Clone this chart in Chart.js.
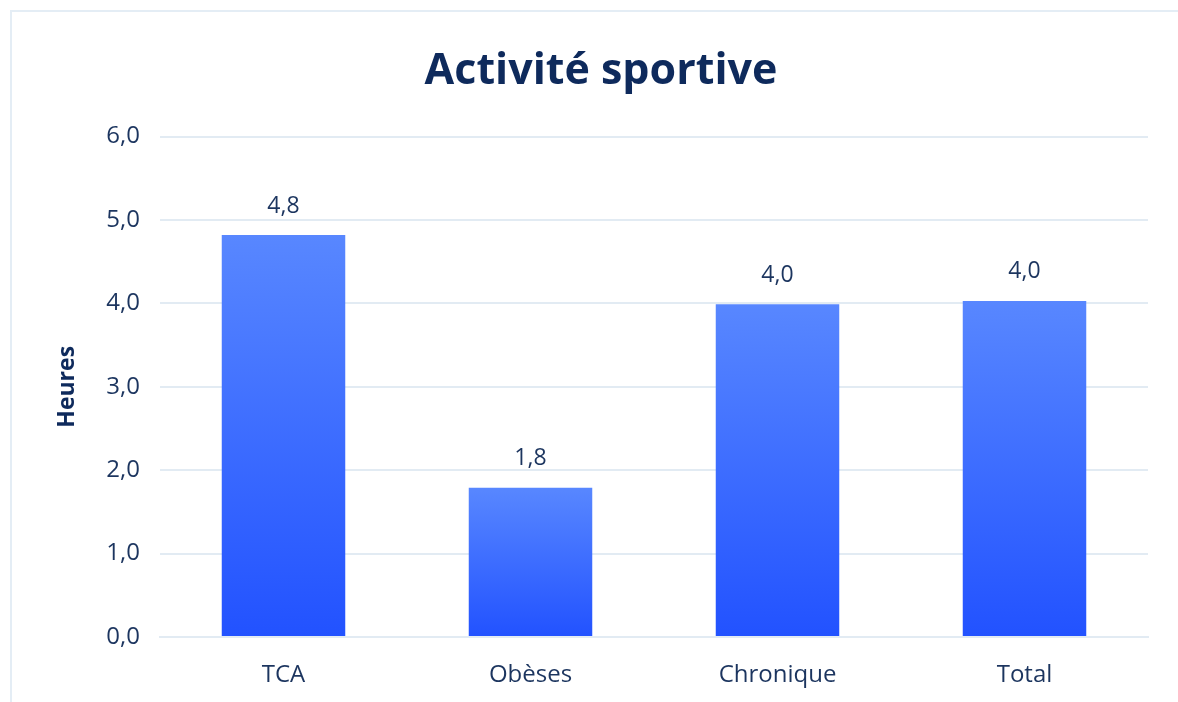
<!DOCTYPE html>
<html>
<head>
<meta charset="utf-8">
<script src="https://cdn.jsdelivr.net/npm/chart.js@4"></script>
<style>
  html, body { margin: 0; padding: 0; background: #ffffff; overflow: hidden; }
  #frame {
    position: absolute; left: 10px; top: 10px;
    width: 1200px; height: 720px;
    border: 2px solid #e4edf5;
  }
  #wrap { position: absolute; left: 0; top: 0; width: 1178px; height: 702px; }
</style>
</head>
<body>
<div id="frame"></div>
<div id="wrap"><canvas id="sportChart" width="1178" height="702"></canvas></div>
<script>
// Chart values
const categories = ["TCA", "Obèses", "Chronique", "Total"];
const heures = [4.82, 1.79, 3.99, 4.03];
const yTicks = [0, 1, 2, 3, 4, 5, 6];

const navy = "#1c355f";
const titleNavy = "#0e2a5c";
const gridColor = "#e2ebf3";

// format numbers the French way: 4,8
function frNum(v) {
    return v.toFixed(1).replace(".", ",");
}

// vertical gradient for each bar, lighter at the top
function barGradient(context) {
    const chart = context.chart;
    const yScale = chart.scales.y;
    if (!chart.chartArea || !yScale) return "#3b6cff";
    const v = context.raw;
    const top = yScale.getPixelForValue(v);
    const bottom = yScale.getPixelForValue(0);
    const g = chart.ctx.createLinearGradient(0, top, 0, bottom);
    g.addColorStop(0, "#5887ff");
    g.addColorStop(1, "#2252ff");
    return g;
}

// small plugin to write the values above the bars
const valueLabels = {
    id: "valueLabels",
    afterDatasetsDraw(chart) {
        const ctx = chart.ctx;
        const meta = chart.getDatasetMeta(0);
        ctx.save();
        ctx.fillStyle = navy;
        ctx.font = "23px 'Open Sans'";
        ctx.textAlign = "center";
        ctx.textBaseline = "middle";
        meta.data.forEach((bar, i) => {
            ctx.fillText(frNum(heures[i]), bar.x, bar.y - 29);
        });
        ctx.restore();
    }
};

const ctx = document.getElementById("sportChart").getContext("2d");
const sportChart = new Chart(ctx, {
    type: "bar",
    data: {
        labels: categories,
        datasets: [{
            label: "Heures",
            data: heures,
            backgroundColor: barGradient,
            borderWidth: 0,
            categoryPercentage: 1.0,
            barPercentage: 0.5
        }]
    },
    options: {
        responsive: false,
        animation: false,
        layout: { padding: { left: 54, right: 30, top: 0, bottom: 0 } },
        plugins: {
            legend: { display: false },
            tooltip: { enabled: false },
            title: {
                display: true,
                text: "Activité sportive",
                color: titleNavy,
                font: { family: "'Open Sans'", size: 43, weight: "bold" },
                padding: { top: 46, bottom: 39 }
            }
        },
        scales: {
            x: {
                grid: { display: false },
                border: { color: gridColor, width: 2 },
                ticks: {
                    color: navy,
                    font: { family: "'Open Sans'", size: 24 },
                    padding: 16
                },
                afterFit(scale) { scale.height = 65; }
            },
            y: {
                min: 0,
                max: 6,
                afterBuildTicks(scale) {
                    scale.ticks = yTicks.map(v => ({ value: v }));
                },
                grid: { color: gridColor, lineWidth: 2, drawTicks: false },
                border: { display: false },
                ticks: {
                    color: navy,
                    font: { family: "'Open Sans'", size: 24 },
                    padding: 20,
                    callback: v => frNum(v)
                },
                title: {
                    display: true,
                    text: "Heures",
                    color: titleNavy,
                    font: { family: "'Open Sans'", size: 23, weight: "bold" },
                    padding: { top: 0, bottom: 10 }
                },
                afterFit(scale) { scale.width = 106; }
            }
        }
    },
    plugins: [valueLabels]
});
</script>
</body>
</html>
